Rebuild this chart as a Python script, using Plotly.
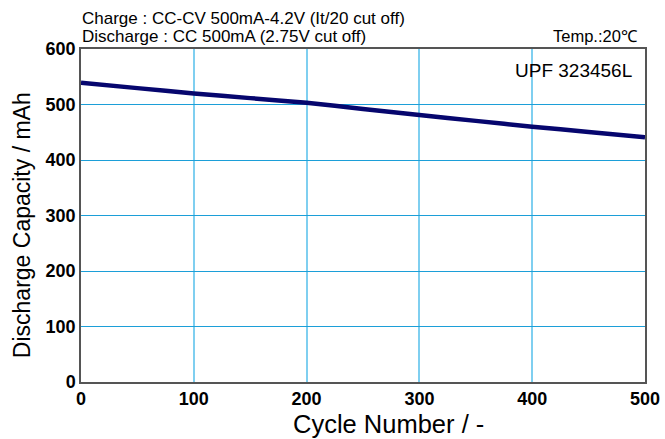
import plotly.graph_objects as go

cycles = [0, 50, 100, 150, 200, 250, 300, 350, 400, 450, 500]
capacity = [539, 529.5, 520, 511.5, 503, 492, 481, 470.5, 460, 450.5, 441]

x_ticks = [0, 100, 200, 300, 400, 500]
y_ticks = [0, 100, 200, 300, 400, 500, 600]

FONT = "Liberation Sans, Arial, sans-serif"

fig = go.Figure()
fig.add_trace(go.Scatter(
    x=cycles, y=capacity, mode="lines",
    line=dict(color="#06066e", width=4.5, shape="spline", smoothing=0.5),
    showlegend=False, hoverinfo="skip",
))

fig.update_layout(
    width=665, height=439,
    margin=dict(l=81, r=20, t=49, b=57, autoexpand=False),
    paper_bgcolor="white", plot_bgcolor="white",
    font=dict(family=FONT, color="black"),
    xaxis=dict(
        range=[0, 500], tickvals=x_ticks, ticktext=[str(v) for v in x_ticks],
        showgrid=True, gridcolor="#7fcff0", gridwidth=2,
        showline=True, linecolor="#555555", linewidth=1.5, mirror=True,
        ticks="", zeroline=False, automargin=False,
        tickfont=dict(family=FONT, size=18, weight="bold", color="black"),
    ),
    yaxis=dict(
        range=[0, 600], tickvals=y_ticks, ticktext=[str(v) for v in y_ticks],
        showgrid=True, gridcolor="#1c9fd8", gridwidth=1,
        showline=True, linecolor="#555555", linewidth=1.5, mirror=True,
        ticks="", zeroline=False, automargin=False,
        tickfont=dict(family=FONT, size=18, weight="bold", color="black"),
    ),
    annotations=[
        dict(text="Charge : CC-CV 500mA-4.2V (It/20 cut off)", xref="paper", yref="paper",
             x=-0.002, y=1.093, xanchor="left", yanchor="middle", showarrow=False,
             font=dict(family=FONT, size=17, color="black")),
        dict(text="Discharge : CC 500mA (2.75V cut off)", xref="paper", yref="paper",
             x=-0.002, y=1.039, xanchor="left", yanchor="middle", showarrow=False,
             font=dict(family=FONT, size=17, color="black")),
        dict(text="Temp.:20℃", xref="paper", yref="paper",
             x=0.991, y=1.039, xanchor="right", yanchor="middle", showarrow=False,
             font=dict(family=FONT, size=16.5, color="black")),
        dict(text="UPF 323456L", xref="paper", yref="paper",
             x=0.980, y=0.934, xanchor="right", yanchor="middle", showarrow=False,
             font=dict(family=FONT, size=19, color="black")),
        dict(text="Discharge Capacity / mAh", xref="paper", yref="paper",
             x=-0.1046, y=0.471, xanchor="center", yanchor="middle", showarrow=False,
             textangle=-90, font=dict(family=FONT, size=23, color="black")),
        dict(text="Cycle Number / -", xref="paper", yref="paper",
             x=0.546, y=-0.126, xanchor="center", yanchor="middle", showarrow=False,
             font=dict(family=FONT, size=25.5, color="black")),
    ],
)

fig.write_html(
    "out.html",
    config={"displayModeBar": False},
    post_script="document.body.style.margin='0px';document.body.style.overflow='hidden';",
)
